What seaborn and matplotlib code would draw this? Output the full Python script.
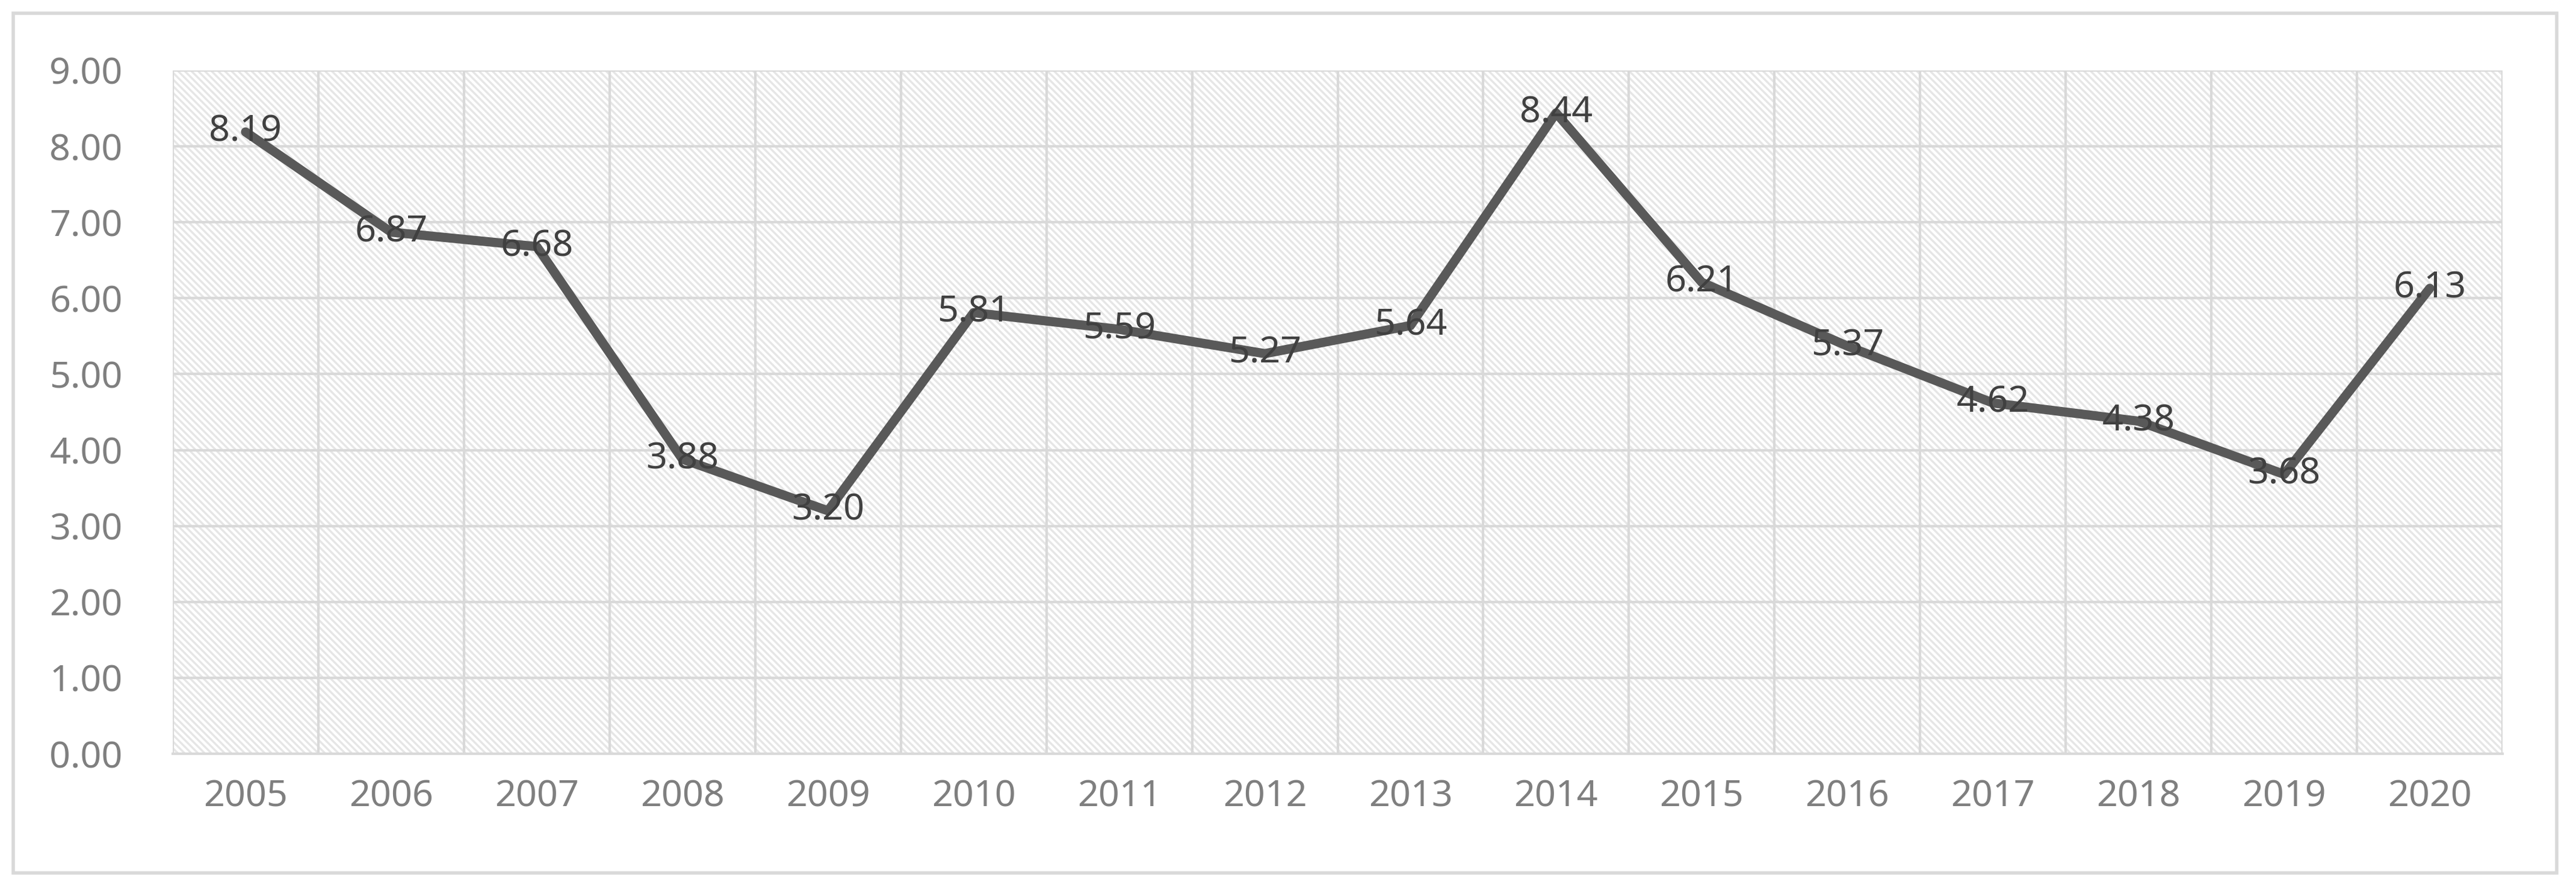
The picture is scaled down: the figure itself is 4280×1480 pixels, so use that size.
import pandas as pd
import matplotlib.pyplot as plt
import seaborn as sns
from matplotlib.patches import Rectangle

years = ["2005", "2006", "2007", "2008", "2009", "2010", "2011", "2012",
         "2013", "2014", "2015", "2016", "2017", "2018", "2019", "2020"]
values = [8.19, 6.87, 6.68, 3.88, 3.20, 5.81, 5.59, 5.27,
          5.64, 8.44, 6.21, 5.37, 4.62, 4.38, 3.68, 6.13]

df = pd.DataFrame({"pos": range(len(years)), "value": values})

sns.set_style("white")
plt.rcParams['font.family'] = ['Noto Sans', 'DejaVu Sans']

fig = plt.figure(figsize=(42.8, 14.8), dpi=100)
ax = fig.add_axes([287 / 4280, 1 - 1252 / 1480, (4158 - 287) / 4280, (1252 - 117) / 1480])

# hatched background
plt.rcParams['hatch.linewidth'] = 2.5
ax.add_patch(Rectangle((0, 0), 1, 1, transform=ax.transAxes, facecolor='white',
                       edgecolor='#e6e6e6', hatch='\\\\\\', lw=0, zorder=0))

sns.lineplot(data=df, x="pos", y="value", ax=ax, color='#595959', lw=11,
             solid_capstyle='round', zorder=3)

for x, v in zip(df["pos"], df["value"]):
    ax.text(x, v, f"{v:.2f}", ha='center', va='center', fontsize=44,
            color='#404040', zorder=4)

ax.set_xlim(-0.5, len(years) - 0.5)
ax.set_ylim(0, 9)
ax.set_yticks(range(0, 10))
ax.set_yticklabels([f"{i:.2f}" for i in range(0, 10)])
ax.set_xticks(range(len(years)))
ax.set_xticklabels(years)
for b in range(len(years) + 1):
    ax.axvline(b - 0.5, color='#d9d9d9', lw=3, zorder=1)
for y in range(1, 10):
    ax.axhline(y, color='#d9d9d9', lw=3, zorder=1)
ax.tick_params(axis='both', labelsize=44, colors='#7f7f7f', length=0)
ax.tick_params(axis='x', pad=30)
ax.tick_params(axis='y', pad=60)
ax.set_xlabel("")
ax.set_ylabel("")
for s in ['top', 'right', 'left']:
    ax.spines[s].set_visible(False)
ax.spines['bottom'].set_color('#d9d9d9')
ax.spines['bottom'].set_linewidth(3)

# outer chart border
fig.add_artist(Rectangle((22 / 4280, 1 - 1450 / 1480), (4248 - 22) / 4280, (1450 - 22) / 1480,
                         transform=fig.transFigure, fill=False, edgecolor='#d9d9d9', lw=4))

fig.savefig("out.png", dpi=100)
